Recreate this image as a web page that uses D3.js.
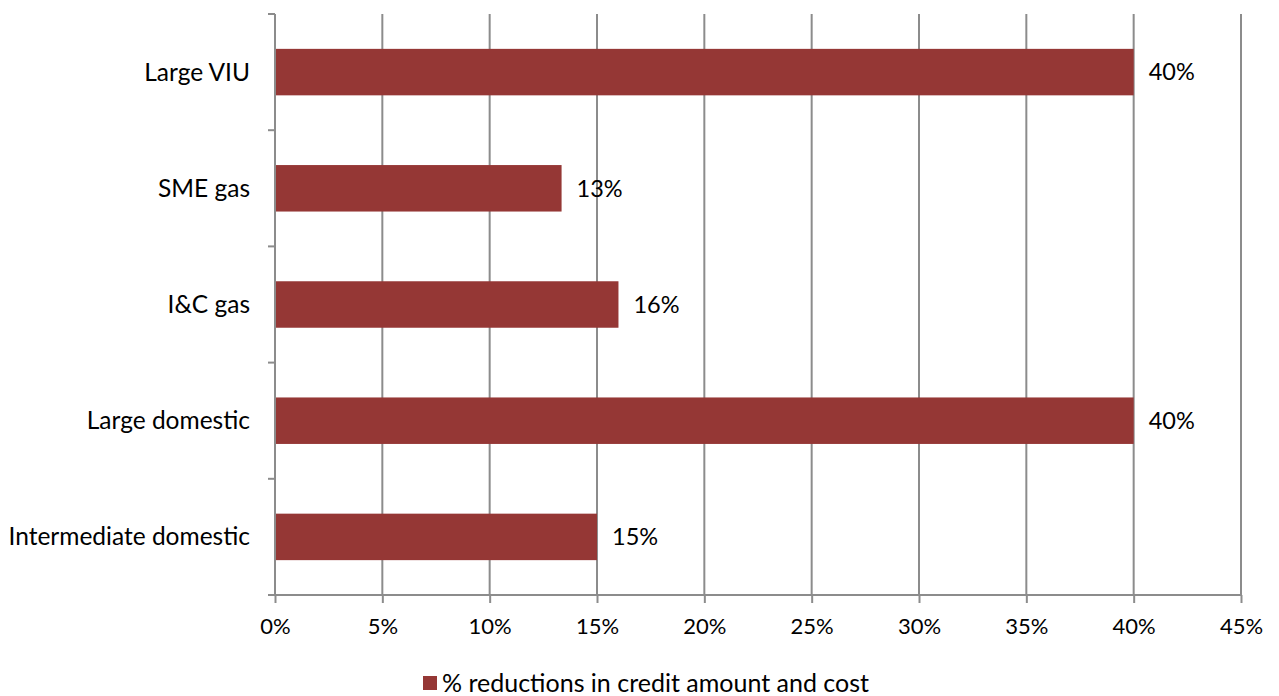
<!DOCTYPE html>
<html>
<head>
<meta charset="utf-8">
<script src="https://cdn.jsdelivr.net/npm/d3@7"></script>
<style>
  html, body { margin: 0; padding: 0; background: #fff; }
  svg { display: block; font-family: "Lato", "Open Sans", sans-serif; }
</style>
</head>
<body>
<svg id="chart" width="1279" height="696"></svg>
<script>
// Categories, top to bottom
const categories = ["Large VIU", "SME gas", "I&C gas", "Large domestic", "Intermediate domestic"];
// Reduction shares (fraction of 1)
const reductions = [0.40, 0.1335, 0.16, 0.40, 0.15];
// X-axis ticks
const xTicks = [0, 0.05, 0.10, 0.15, 0.20, 0.25, 0.30, 0.35, 0.40, 0.45];
const seriesName = "% reductions in credit amount and cost";

const barColor = "#953735";
const gridColor = "#8c8c8c";

const svg = d3.select("#chart");
const margin = { left: 275, right: 38, top: 14, bottom: 101 };
const W = 1279, H = 696;

const x = d3.scaleLinear().domain([0, 0.45]).range([margin.left, W - margin.right]);
const y = d3.scaleBand().domain(categories).range([margin.top, H - margin.bottom]).paddingInner(0.6).paddingOuter(0.3);

const pct = d3.format(".0%");

// Vertical gridlines
svg.append("g")
  .selectAll("line")
  .data(xTicks.slice(1))
  .join("line")
  .attr("x1", d => x(d)).attr("x2", d => x(d))
  .attr("y1", margin.top).attr("y2", H - margin.bottom)
  .attr("stroke", gridColor).attr("stroke-width", 2);

// Bars
svg.append("g")
  .selectAll("rect")
  .data(categories)
  .join("rect")
  .attr("x", x(0))
  .attr("y", d => y(d))
  .attr("width", (d, i) => x(reductions[i]) - x(0))
  .attr("height", y.bandwidth())
  .attr("fill", barColor);

// Value labels
svg.append("g")
  .selectAll("text")
  .data(categories)
  .join("text")
  .attr("x", (d, i) => x(reductions[i]) + 15)
  .attr("y", d => y(d) + y.bandwidth() / 2)
  .attr("dy", "0.35em")
  .attr("font-size", 23.5)
  .attr("fill", "#000")
  .text((d, i) => pct(reductions[i]));

// Y axis: band boundary ticks
const yAxisG = svg.append("g").attr("transform", `translate(${x(0)},0)`);
const step = y.step();
const boundaries = d3.range(categories.length + 1).map(i => margin.top + i * step);
yAxisG.append("line")
  .attr("x1", 0).attr("x2", 0)
  .attr("y1", margin.top).attr("y2", H - margin.bottom)
  .attr("stroke", gridColor).attr("stroke-width", 2);
yAxisG.selectAll("line.tick")
  .data(boundaries)
  .join("line").attr("class", "tick")
  .attr("x1", -7).attr("x2", 0)
  .attr("y1", d => d).attr("y2", d => d)
  .attr("stroke", gridColor).attr("stroke-width", 2);
yAxisG.selectAll("text")
  .data(categories)
  .join("text")
  .attr("x", -25)
  .attr("y", d => y(d) + y.bandwidth() / 2)
  .attr("dy", "0.35em")
  .attr("text-anchor", "end")
  .attr("font-size", 24.5)
  .attr("fill", "#000")
  .text(d => d);

// X axis
const xAxis = d3.axisBottom(x).tickValues(xTicks).tickFormat(pct).tickSize(8).tickPadding(15);
const xAxisG = svg.append("g")
  .attr("transform", `translate(0,${H - margin.bottom})`)
  .call(xAxis);
xAxisG.select(".domain").attr("stroke", gridColor).attr("stroke-width", 2)
  .attr("d", `M${x(0) - 7},0H${x(0.45)}`);
xAxisG.selectAll(".tick line").attr("stroke", gridColor).attr("stroke-width", 2);
xAxisG.selectAll(".tick text").attr("font-size", 22).attr("fill", "#000")
  .attr("font-family", "Lato, 'Open Sans', sans-serif");

// Legend
const legend = svg.append("g").attr("transform", "translate(423,676)");
legend.append("rect").attr("x", 0).attr("y", 0).attr("width", 14).attr("height", 14).attr("fill", barColor);
legend.append("text")
  .attr("x", 19).attr("y", 7).attr("dy", "0.35em")
  .attr("font-size", 25).attr("fill", "#000")
  .text(seriesName);
</script>
</body>
</html>
